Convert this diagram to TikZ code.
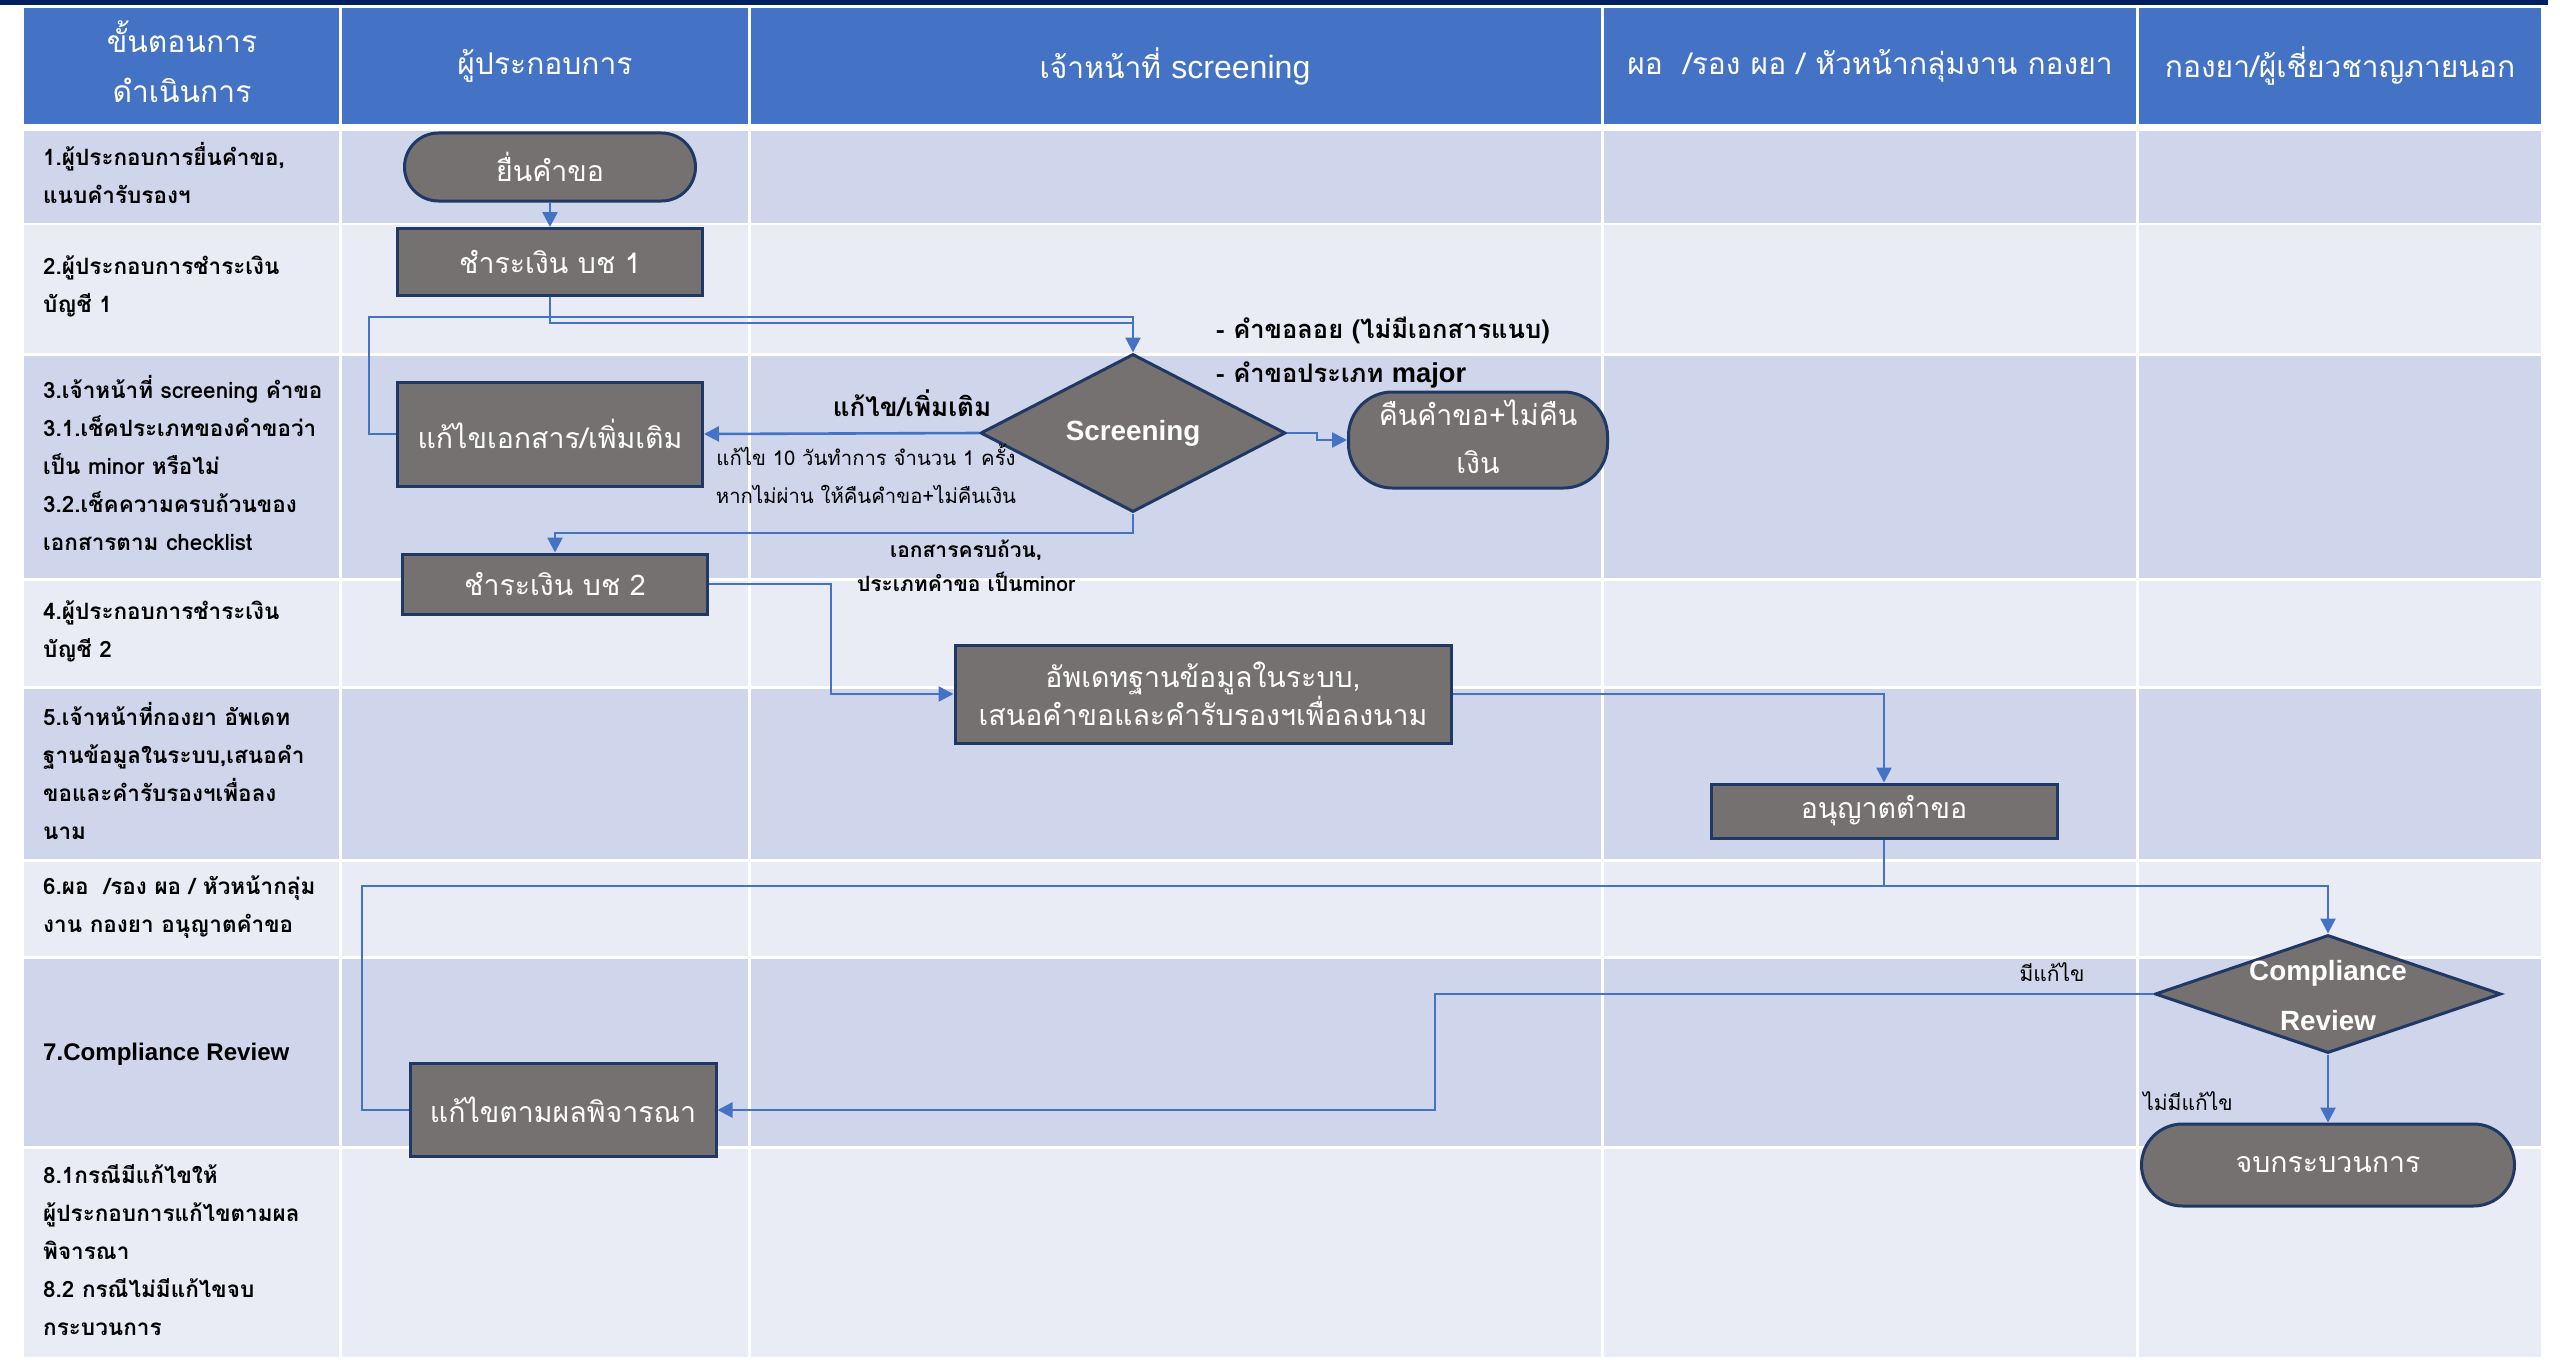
\documentclass[tikz,border=0pt]{standalone}
\usepackage{fontspec}
\setmainfont[Script=Thai]{Loma}
\newfontfamily\arialf[Scale=1.07]{Liberation Sans}
\usetikzlibrary{arrows.meta,shapes.geometric,calc}

\definecolor{hdrblue}{HTML}{4472C4}
\definecolor{navybar}{HTML}{002060}
\definecolor{rowdark}{HTML}{CFD5EA}
\definecolor{rowlight}{HTML}{E9EBF5}
\definecolor{boxgray}{HTML}{767171}
\definecolor{boxedge}{HTML}{203864}
\definecolor{linkblue}{HTML}{4472C4}

\newcommand{\fsz}[2]{\fontsize{#1}{#2}\selectfont}
\newcommand{\lat}[1]{{\arialf #1}}

\tikzset{
  proc/.style={draw=boxedge, line width=3pt, fill=boxgray, text=white,
    inner sep=0pt, align=center, font=\fsz{28.5}{40}},
  term/.style={proc},
  decide/.style={proc, diamond},
  decidetext/.style={text=white, align=center, inner sep=0pt,
    font=\arialf\bfseries\fsz{26}{50}},
  hdr/.style={text=white, align=center, font=\fsz{30}{50}},
  stepcell/.style={anchor=west, align=left, inner sep=0pt, font=\bfseries\fsz{22.5}{38}},
  note/.style={inner sep=0pt, align=center, text=black},
  link/.style={draw=linkblue, line width=2.6pt},
  arr/.style={link, -{Triangle[length=15pt,width=15pt]}}
}

\begin{document}
\begin{tikzpicture}[x=1pt,y=-1pt]
\useasboundingbox (0,0) rectangle (2560,1362);
\fill[white] (0,0) rectangle (2560,1362);

% top rule
\fill[navybar] (0,0) rectangle (2548,5);

% header band and row bands
\fill[hdrblue] (24,8) rectangle (2541,124);
\foreach \ya/\yb/\c in {131/223/rowdark, 225/353/rowlight, 356/578/rowdark,
    581/686/rowlight, 689/859/rowdark, 862/956/rowlight, 959/1146/rowdark,
    1149/1357/rowlight}
  \fill[\c] (24,\ya) rectangle (2541,\yb);

% column separators
\foreach \x in {340,749,1602,2137}
  \draw[white, line width=3pt] (\x,8) -- (\x,1357);

% header titles
\node[hdr] (h1) at (182,62) {ขั้นตอนการ\\ดำเนินการ};
\node[hdr] (h2) at (545,66) {ผู้ประกอบการ};
\node[hdr] (h3) at (1175,66) {เจ้าหน้าที่ \lat{screening}};
\node[hdr] (h4) at (1870,66) {ผอ~~/รอง ผอ / หัวหน้ากลุ่มงาน กองยา};
\node[hdr] (h5) at (2340,66) {กองยา/ผู้เชี่ยวชาญภายนอก};

% step descriptions
\node[stepcell] (s1) at (43,173) {1.ผู้ประกอบการยื่นคำขอ,\\แนบคำรับรองฯ};
\node[stepcell] (s2) at (43,286) {2.ผู้ประกอบการชำระเงิน\\บัญชี 1};
\node[stepcell] (s3) at (43,463) {3.เจ้าหน้าที่ screening คำขอ\\3.1.เช็คประเภทของคำขอว่า\\เป็น minor หรือไม่\\3.2.เช็คความครบถ้วนของ\\เอกสารตาม checklist};
\node[stepcell] (s4) at (43,631) {4.ผู้ประกอบการชำระเงิน\\บัญชี 2};
\node[stepcell] (s5) at (43,771) {5.เจ้าหน้าที่กองยา อัพเดท\\ฐานข้อมูลในระบบ,เสนอคำ\\ขอและคำรับรองฯเพื่อลง\\นาม};
\node[stepcell] (s6) at (43,907) {6.ผอ~~/รอง ผอ / หัวหน้ากลุ่ม\\งาน กองยา อนุญาตคำขอ};
\node[stepcell] (s7) at (43,1054) {\lat{7.Compliance Review}};
\node[stepcell] (s8) at (43,1250) {8.1กรณีมีแก้ไขให้\\ผู้ประกอบการแก้ไขตามผล\\พิจารณา\\8.2 กรณีไม่มีแก้ไขจบ\\กระบวนการ};

% flow shapes
\node[term, minimum width=291pt, minimum height=68pt, rounded corners=34pt] (submit) at (550,167) {ยื่นคำขอ};
\node[proc, minimum width=305pt, minimum height=67pt] (pay1) at (550,262) {ชำระเงิน บช 1};
\node[proc, minimum width=305pt, minimum height=104pt] (fixdoc) at (550,434) {แก้ไขเอกสาร/เพิ่มเติม};
\node[decide, minimum width=305pt, minimum height=158pt] (screen) at (1133,433) {};
\node[decidetext] (screenlbl) at (screen.center) {Screening};
\node[term, minimum width=259pt, minimum height=96pt, rounded corners=44pt] (refund) at (1478,440) {};
\node[text=white, align=center, inner sep=0pt, font=\fsz{28.5}{48}] (refundlbl) at (1478,437) {คืนคำขอ+ไม่คืน\\เงิน};
\node[proc, minimum width=305pt, minimum height=60pt] (pay2) at (555,584) {ชำระเงิน บช 2};
\node[proc, minimum width=496pt, minimum height=98pt, font=\fsz{28.5}{38}] (update) at (1203,694) {อัพเดทฐานข้อมูลในระบบ,\\เสนอคำขอและคำรับรองฯเพื่อลงนาม};
\node[proc, minimum width=346pt, minimum height=54pt] (allow) at (1884,811) {อนุญาตตำขอ};
\node[decide, minimum width=346pt, minimum height=118pt] (comp) at (2328,994) {};
\node[decidetext] (complbl) at (2328,996) {Compliance\\Review};
\node[term, minimum width=373pt, minimum height=82pt, rounded corners=41pt] (finish) at (2328,1165) {จบกระบวนการ};
\node[proc, minimum width=306pt, minimum height=93pt] (fix2) at (563,1110) {แก้ไขตามผลพิจารณา};

% bend points
\coordinate (j1) at (1133,323);
\coordinate (j0) at (1133,317);
\coordinate (lx) at (369,434);
\coordinate (r1) at (1317,433);
\coordinate (r2) at (1317,440);
\coordinate (d1) at (1133,533);
\coordinate (c7) at (831,694);
\coordinate (j6) at (1884,886);
\coordinate (c10) at (362,1110);
\coordinate (c11) at (1435,994);

% connectors
\draw[arr] (submit.south) -- (pay1.north);
\draw[link] (pay1.south) |- (j1);
\draw[link] (fixdoc.west) -- (lx) |- (j0) -- (j1);
\draw[arr] (j1) -- (screen.north);
\draw[arr] (screen.west) -- (fixdoc.east);
\draw[arr] (screen.east) -- (r1) -- (r2) -- (refund.west);
\draw[arr] (screen.south) -- (d1) -| (pay2.north);
\draw[arr] (pay2.east) -| (c7) -- (update.west);
\draw[arr] (update.east) -| (allow.north);
\draw[link] (allow.south) -- (j6);
\draw[link] (fix2.west) -- (c10) |- (j6);
\draw[arr] (j6) -| (comp.north);
\draw[arr] (comp.west) -- (c11) |- (fix2.east);
\draw[arr] (comp.south) -- (finish.north);

% connector labels
\node[note, font=\bfseries\fsz{26}{30}] (t1) at (912,403) {แก้ไข/เพิ่มเติม};
\node[note, font=\fsz{20.3}{38}] (t2) at (866,474) {แก้ไข 10 วันทำการ จำนวน 1 ครั้ง\\หากไม่ผ่าน ให้คืนคำขอ+ไม่คืนเงิน};
\node[note, anchor=west, font=\bfseries\fsz{25.5}{30}] (t3) at (1216,330) {- คำขอลอย (ไม่มีเอกสารแนบ)};
\node[note, anchor=west, font=\bfseries\fsz{25.5}{30}] (t4) at (1216,375) {- คำขอประเภท \lat{major}};
\node[note, font=\bfseries\fsz{21}{34}] (t5) at (966,566) {เอกสารครบถ้วน,\\ประเภทคำขอ เป็นminor};
\node[note, font=\fsz{21}{30}] (t6) at (2052,972) {มีแก้ไข};
\node[note, font=\fsz{21}{30}] (t7) at (2188,1101) {ไม่มีแก้ไข};
\end{tikzpicture}
\end{document}
